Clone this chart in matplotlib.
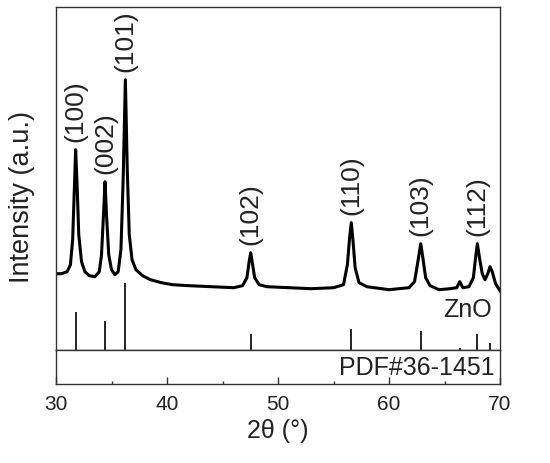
import matplotlib
matplotlib.use("Agg")
import matplotlib.pyplot as plt

plt.rcParams['font.family'] = ['Liberation Sans', 'DejaVu Sans']

# Measured XRD pattern (2theta, intensity a.u.)
two_theta = [30.0, 30.5, 31.0, 31.3, 31.5, 31.65, 31.77, 31.9, 32.05, 32.3, 32.6, 33.0,
             33.5, 33.9, 34.1, 34.3, 34.42, 34.55, 34.75, 35.0, 35.3, 35.6, 35.85, 36.05,
             36.25, 36.42, 36.6, 36.85, 37.2, 37.8, 38.5, 39.5, 40.5, 42.0, 44.0, 46.0,
             46.8, 47.2, 47.4, 47.54, 47.7, 47.9, 48.3, 49.0, 51.0, 53.0, 55.0, 55.9,
             56.25, 56.45, 56.6, 56.75, 56.95, 57.3, 58.0, 60.0, 61.8, 62.3, 62.6, 62.86,
             63.05, 63.3, 63.7, 64.5, 65.5, 66.1, 66.38, 66.65, 67.2, 67.6, 67.8, 67.96,
             68.15, 68.4, 68.65, 68.9, 69.1, 69.3, 69.6, 70.0]
intensity = [76, 76, 78, 85, 110, 160, 200, 165, 115, 88, 78, 74,
             73, 78, 95, 140, 168, 135, 95, 80, 75, 78, 100, 170,
             270, 180, 115, 90, 80, 74, 70, 67, 65, 64, 63, 62,
             64, 72, 88, 97, 86, 72, 65, 63, 62, 61, 62, 65,
             85, 112, 127, 110, 82, 67, 63, 60, 62, 68, 88, 106,
             92, 72, 64, 60, 61, 62, 68, 62, 63, 72, 92, 106,
             92, 76, 70, 76, 83, 78, 66, 59]

# Reference pattern PDF#36-1451 (ZnO)
ref_pos = [31.77, 34.42, 36.25, 47.54, 56.60, 62.86, 66.38, 67.96, 69.10]
ref_int = [38, 29, 67, 16, 21, 19, 2, 16, 7]

# Peak labels
peak_labels = ['(100)', '(002)', '(101)', '(102)', '(110)', '(103)', '(112)']
peak_pos = [31.77, 34.42, 36.25, 47.54, 56.60, 62.86, 67.96]
peak_int = [200, 168, 270, 97, 127, 106, 106]

xticks = [30, 40, 50, 60, 70]

txt_color = '#222222'
spine_color = '#333333'

fig = plt.figure(figsize=(5.5, 4.64), dpi=100)
L, R = 56 / 550, 500 / 550
y_top = 1 - 8 / 464
y_sep = 1 - 350.7 / 464
y_bot = 1 - 385 / 464
ax = fig.add_axes([L, y_sep, R - L, y_top - y_sep])
ax2 = fig.add_axes([L, y_bot, R - L, y_sep - y_bot], sharex=ax)

ax.plot(two_theta, intensity, color='black', lw=2.2, solid_joinstyle='round')
ax.vlines(ref_pos, 0, ref_int, color='black', lw=1.2)
for lab, x, y in zip(peak_labels, peak_pos, peak_int):
    ax.annotate(lab, (x, y), xytext=(0, 6), textcoords='offset points',
                rotation=90, ha='center', va='bottom', fontsize=19,
                color=txt_color, annotation_clip=False)
ax.text(0.983, 0.119, 'ZnO', transform=ax.transAxes, ha='right', va='center',
        fontsize=18, color=txt_color)

ax.set_xlim(30, 70)
ax.set_ylim(0, 342.7)
ax.set_yticks([])
ax.tick_params(axis='x', which='both', bottom=False, labelbottom=False)
ax.set_ylabel('Intensity (a.u.)', fontsize=19.5, color=txt_color)
ax.yaxis.set_label_coords(-0.047, 0.449)

ax2.set_ylim(0, 1)
ax2.set_yticks([])
ax2.set_xticks(xticks)
ax2.set_xticks([35, 45, 55, 65], minor=True)
ax2.tick_params(axis='x', which='major', direction='in', length=5, width=1,
                labelsize=15, pad=7, colors=spine_color, labelcolor=txt_color)
ax2.tick_params(axis='x', which='minor', direction='in', length=2.5, width=1,
                colors=spine_color)
ax2.text(0.989, 0.5, 'PDF#36-1451', transform=ax2.transAxes, ha='right',
         va='center', fontsize=18, color=txt_color)
ax2.set_xlabel('2θ (°)', fontsize=18, color=txt_color, labelpad=4)

for a in (ax, ax2):
    for s in a.spines.values():
        s.set_color(spine_color)
        s.set_linewidth(1.0)

fig.savefig('out.png', dpi=100)
